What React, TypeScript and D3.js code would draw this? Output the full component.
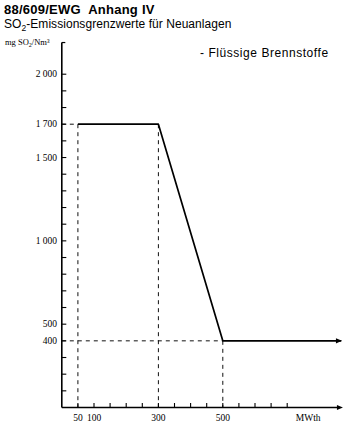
import React from "react";
import * as d3 from "d3";

const limitX = [50, 300, 500, 868];
const limitY = [1700, 1700, 400, 400];
const yTickValues = d3.range(100, 2100, 100);
const yLabelValues = [2000, 1700, 1500, 1000, 500, 400];
const yLabelTexts = ["2 000", "1 700", "1 500", "1 000", "500", "400"];
const xTickValues = d3.range(50, 750, 50);
const xLabelValues = [50, 100, 300, 500];
const xLabelTexts = ["50", "100", "300", "500"];
const dashedV = [
  { x: 50, y: 1700 },
  { x: 300, y: 1700 },
  { x: 500, y: 400 },
];
const dashedH = [
  { x: 50, y: 1700 },
  { x: 500, y: 400 },
];

const W = 349;
const H = 428;

export default function App() {
  const x = d3.scaleLinear().domain([0, 500]).range([61.8, 222.8]);
  const y = d3.scaleLinear().domain([0, 2000]).range([407.5, 74.2]);
  const xEnd = 870;
  const yTop = 2190;
  const serif = "'Liberation Serif', 'DejaVu Serif', serif";
  const sans = "'Liberation Sans', Arial, sans-serif";

  const line = d3
    .line<number>()
    .x((_, i) => x(limitX[i]))
    .y((d) => y(d));

  const arrow = (px: number, py: number) =>
    `M${px + 1},${py} L${px - 5},${py - 2.6} L${px - 5},${py + 2.6} Z`;

  return (
    <svg
      width={W}
      height={H}
      style={{ position: "absolute", left: 0, top: 0, background: "#fff" }}
    >
      <rect x={0} y={0} width={W} height={H} fill="#fff" />
      {/* titles */}
      <text x={4} y={14} fontFamily={sans} fontSize={13} fontWeight="bold" letterSpacing={0.25} style={{ whiteSpace: "pre" }}>
        {"88/609/EWG  Anhang IV"}
      </text>
      <text x={4} y={28} fontFamily={sans} fontSize={12} letterSpacing={0.05}>
        SO<tspan fontSize={8.5} dy={2.5}>2</tspan>
        <tspan dy={-2.5}>-Emissionsgrenzwerte für Neuanlagen</tspan>
      </text>
      <text x={200} y={57} fontFamily={sans} fontSize={12} letterSpacing={0.55}>
        - Flüssige Brennstoffe
      </text>
      <text x={5} y={45} fontFamily={serif} fontSize={8.5}>
        mg SO<tspan fontSize={6} dy={1.5}>2</tspan>
        <tspan dy={-1.5}>/Nm³</tspan>
      </text>

      {/* dashed guides */}
      {dashedV.map((d, i) => (
        <line
          key={"dv" + i}
          x1={x(d.x)}
          x2={x(d.x)}
          y1={y(d.y)}
          y2={y(0)}
          stroke="#111"
          strokeWidth={1}
          strokeDasharray="4,4"
        />
      ))}
      {dashedH.map((d, i) => (
        <line
          key={"dh" + i}
          x1={x(0)}
          x2={x(d.x)}
          y1={y(d.y)}
          y2={y(d.y)}
          stroke="#111"
          strokeWidth={1}
          strokeDasharray="4,4"
        />
      ))}

      {/* y axis */}
      <line x1={x(0)} x2={x(0)} y1={y(yTop)} y2={y(0)} stroke="#000" strokeWidth={1.6} />
      <line x1={x(0)} x2={x(0) + 3.5} y1={y(yTop)} y2={y(yTop)} stroke="#000" strokeWidth={1.2} />
      {yTickValues.map((v) => (
        <line key={"yt" + v} x1={x(0)} x2={x(0) + 4.5} y1={y(v)} y2={y(v)} stroke="#000" strokeWidth={1.1} />
      ))}
      {yLabelValues.map((v, i) => (
        <text
          key={"yl" + v}
          x={57}
          y={y(v) + 3.2}
          textAnchor="end"
          fontFamily={serif}
          fontSize={9.5}
        >
          {yLabelTexts[i]}
        </text>
      ))}

      {/* x axis */}
      <line x1={x(0)} x2={x(xEnd) - 3} y1={y(0)} y2={y(0)} stroke="#000" strokeWidth={1.6} />
      <path d={arrow(x(xEnd), y(0))} fill="#000" />
      {xTickValues.map((v) => (
        <line key={"xt" + v} x1={x(v)} x2={x(v)} y1={y(0)} y2={y(0) - 4.5} stroke="#000" strokeWidth={1.1} />
      ))}
      {xLabelValues.map((v, i) => (
        <text key={"xl" + v} x={x(v)} y={421} textAnchor="middle" fontFamily={serif} fontSize={9.5}>
          {xLabelTexts[i]}
        </text>
      ))}
      <text x={x(765)} y={421} textAnchor="middle" fontFamily={serif} fontSize={9.5}>
        MWth
      </text>

      {/* limit line */}
      <path d={line(limitY) || ""} fill="none" stroke="#000" strokeWidth={1.7} strokeLinejoin="round" />
      <path d={arrow(x(xEnd) - 1, y(400))} fill="#000" />
    </svg>
  );
}
